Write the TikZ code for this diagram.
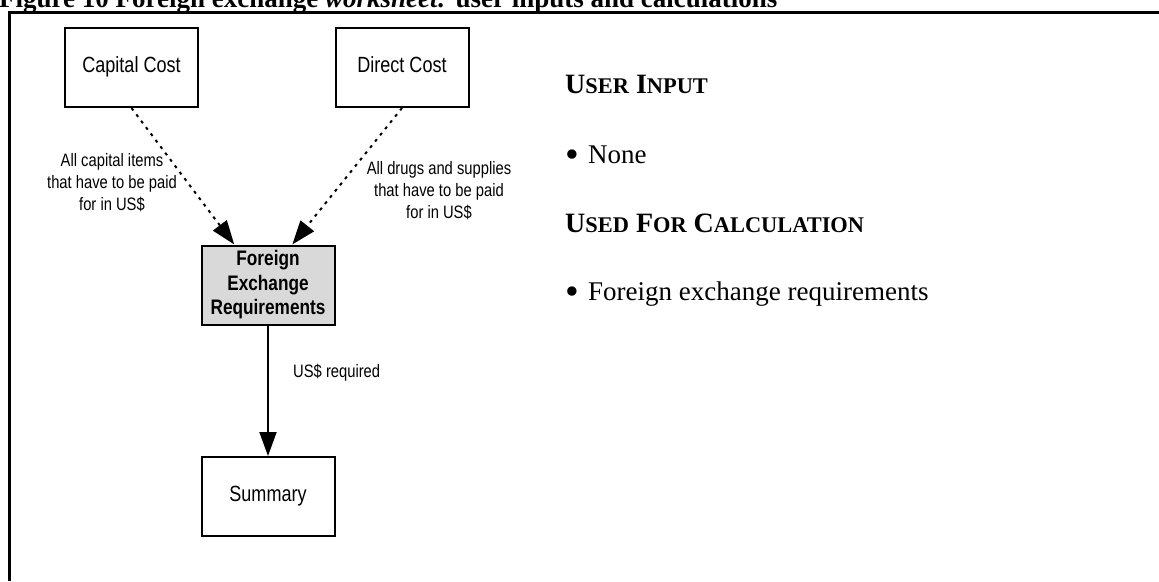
\documentclass[tikz,border=0pt]{standalone}
\usepackage{fontspec}
\usepackage{graphicx}
\setmainfont{Liberation Serif}
\newfontfamily\narrow{Liberation Sans}[FakeStretch=0.82]
\usetikzlibrary{arrows.meta,calc}
\definecolor{fergray}{HTML}{D9D9D9}
\newcommand\smc[1]{{\fontsize{22.4}{26}\selectfont #1}}
\newcommand\bigbul{\makebox[23pt][l]{\raisebox{-4.5pt}{\scalebox{1.45}{•}}}}
\begin{document}
\begin{tikzpicture}[x=1pt,y=-1pt,
  box/.style={draw,line width=2pt,minimum width=133pt,minimum height=79pt,inner sep=0pt,align=center},
  boxtext/.style={font=\narrow\fontsize{22}{25}\selectfont,text height=15pt,text depth=5pt},
  bold box/.style={font=\narrow\bfseries\fontsize{21}{24.5}\selectfont},
  lbl/.style={inner sep=0pt,align=center,font=\narrow\fontsize{18}{22}\selectfont},
  hdr/.style={inner sep=0pt,anchor=base west,font=\bfseries\fontsize{28}{32}\selectfont},
  body/.style={inner sep=0pt,anchor=base west,font=\fontsize{27}{32}\selectfont},
  dotarrow/.style={line width=2pt,dash pattern=on 3pt off 5pt,-{Triangle[length=24pt,width=17pt]}},
  solidarrow/.style={line width=2pt,-{Triangle[length=24pt,width=17pt]}}
]
\useasboundingbox (0,0) rectangle (1159,581);
% title (cut off at top, as in the reference)
\node[inner sep=0pt,anchor=base west,font=\bfseries\fontsize{27}{30}\selectfont] (title) at (-1,7)
  {Figure 10 Foreign exchange \textit{worksheet:} user inputs and calculations};
% frame
\draw[line width=3pt] (9.5,581) -- (9.5,12.5) -- (1159,12.5);
% boxes
\node[box,boxtext] (cap) at (131.5,67.5) {Capital Cost};
\node[box,boxtext] (dir) at (402,67.5) {Direct Cost};
\node[box,bold box,fill=fergray] (fer) at (268,285) {Foreign\\Exchange\\Requirements};
\node[box,boxtext] (sum) at (268,496.5) {Summary};
% connectors
\draw[dotarrow] (cap.south) -- ($(fer.north west)!0.25!(fer.north east)$);
\draw[dotarrow] (dir.south) -- ($(fer.north west)!0.68!(fer.north east)$);
\draw[solidarrow] (fer.south) -- (sum.north);
% labels
\node[lbl] (l1) at (112,183) {All capital items\\that have to be paid\\for in US\$};
\node[lbl] (l2) at (439,191) {All drugs and supplies\\that have to be paid\\for in US\$};
\node[lbl,anchor=west] (l3) at (293,373) {US\$ required};
% right column
\node[hdr] (h1) at (565,93) {U\smc{SER} I\smc{NPUT}};
\node[body] (b1) at (565,163) {\bigbul None};
\node[hdr] (h2) at (565,232) {U\smc{SED} F\smc{OR} C\smc{ALCULATION}};
\node[body] (b2) at (565,300) {\bigbul Foreign exchange requirements};
\end{tikzpicture}
\end{document}
